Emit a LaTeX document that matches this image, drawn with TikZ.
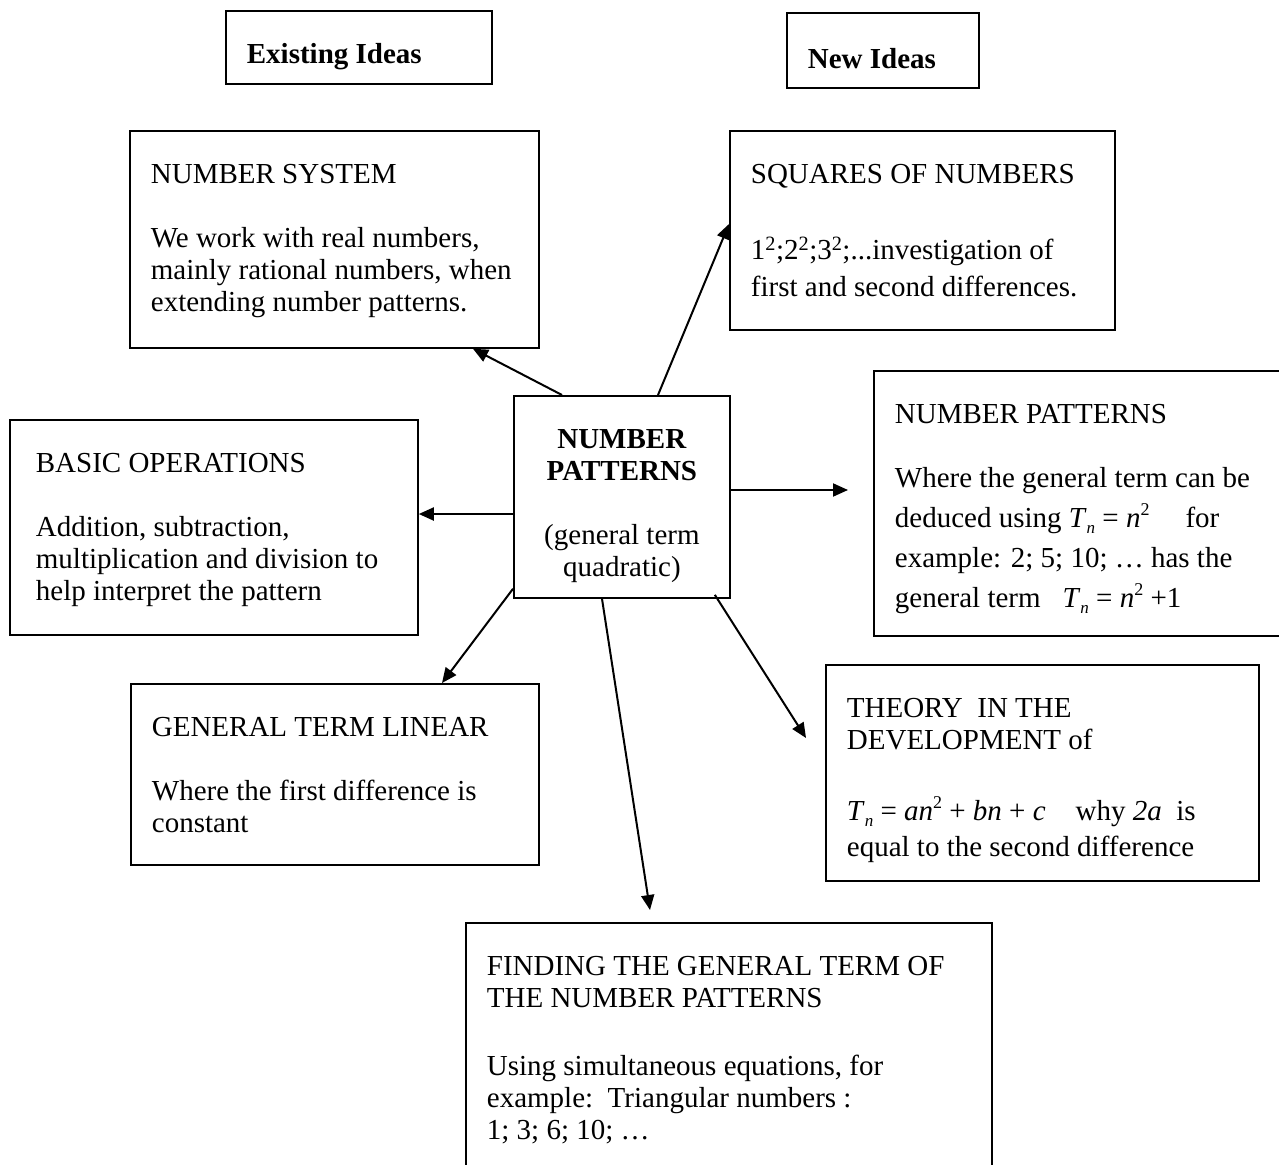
\documentclass[tikz,border=0pt]{standalone}
\usepackage{fontspec}
\setmainfont{Liberation Serif}
\usetikzlibrary{arrows.meta, calc}
\newcommand{\Tn}{\textit{T}\raisebox{-6pt}{\fontsize{17}{17}\selectfont\textit{n}}}
\newcommand{\sq}[1]{\textit{#1}\raisebox{12pt}{\fontsize{18}{18}\selectfont 2}}
\newcommand{\boxtext}[4][30.6pt]{\parbox[t][#2][t]{#3}{\raggedright\vspace*{#1}\strut #4}}

\begin{document}
\begin{tikzpicture}[x=1pt, y=-1pt, font=\fontsize{29}{32}\selectfont,
    idea/.style={draw, line width=1.8pt, anchor=north west, inner ysep=0pt, inner xsep=21pt},
    link/.style={line width=2pt, -{Triangle[length=15pt, width=13pt]}}]
  \useasboundingbox (0,0) rectangle (1279,1164);
  \clip (0,0) rectangle (1279,1164);

  % --- headings ---
  \node[idea] (existing) at (225,10) {\boxtext{73pt}{224pt}{\textbf{Existing Ideas}}};
  \node[idea] (newideas) at (786,12) {\boxtext[33.6pt]{75pt}{150pt}{\textbf{New Ideas}}};

  % --- centre ---
  \node[idea] (main) at (513,395) {\boxtext{202pt}{174pt}{\centering\textbf{NUMBER}\\
      \textbf{PATTERNS}\\[32pt] (general term\\ quadratic)}};

  % --- existing ideas ---
  \node[idea] (numsys) at (129,130) {\boxtext{217pt}{367pt}{NUMBER SYSTEM\\[32pt]
      We work with real numbers,\\ mainly rational numbers, when\\ extending number patterns.}};
  \node[idea, inner xsep=26pt] (basic) at (9,419) {\boxtext{215pt}{356pt}{BASIC OPERATIONS\\[32pt]
      Addition, subtraction,\\ multiplication and division to\\ help interpret the pattern}};
  \node[idea] (linear) at (130,683) {\boxtext{181pt}{366pt}{GENERAL TERM LINEAR\\[32pt]
      Where the first difference is\\ constant}};

  % --- new ideas ---
  \node[idea] (squares) at (729,130) {\boxtext{199pt}{343pt}{SQUARES OF NUMBERS\\[43pt]
      1\textsuperscript{2};2\textsuperscript{2};3\textsuperscript{2};...investigation of\\[5pt]
      first and second differences.}};
  \node[idea] (patterns) at (873,370) {\boxtext{265pt}{378pt}{NUMBER PATTERNS\\[32pt]
      Where the general term can be\\[8pt]
      deduced using \Tn{} = \sq{n}\hspace{36pt}for\\[8pt]
      example: 2; 5; 10; … has the\\[8pt]
      general term\hspace{22pt}\Tn{} = \sq{n} +1}};
  \node[idea] (theory) at (825,664) {\boxtext{216pt}{391pt}{THEORY\ \ IN THE\\
      DEVELOPMENT of\\[39pt]
      \Tn{} = \textit{a}\sq{n} + \textit{bn} + \textit{c}\hspace{30pt}why \textit{2a}\ \ is\\[4pt]
      equal to the second difference}};
  \node[idea] (finding) at (465,922) {\boxtext{260pt}{484pt}{FINDING THE GENERAL TERM OF\\
      THE NUMBER PATTERNS\\[36pt]
      Using simultaneous equations, for\\
      example:\ \ Triangular numbers :\\
      1; 3; 6; 10; …}};

  % --- arrows out of the centre ---
  \draw[link] ($(main.north west)+(49,0)$) -- ($(numsys.south west)+(344,0)$);
  \draw[link] ($(main.north west)+(145,0)$) -- ($(squares.north west)+(0,94)$);
  \draw[link] ($(main.north east)+(0,95)$) -- ($(patterns.north west)+(-25,120)$);
  \draw[link] ($(main.north west)+(0,119)$) -- ($(basic.north east)+(0,95)$);
  \draw[link] ($(main.south west)+(0,-10)$) -- ($(linear.north west)+(312,0)$);
  \draw[link] ($(main.south west)+(89,0)$) -- ($(finding.north west)+(185,-12)$);
  \draw[link] ($(main.south east)+(-16,-4)$) -- ($(theory.north west)+(-19,74)$);
\end{tikzpicture}
\end{document}
